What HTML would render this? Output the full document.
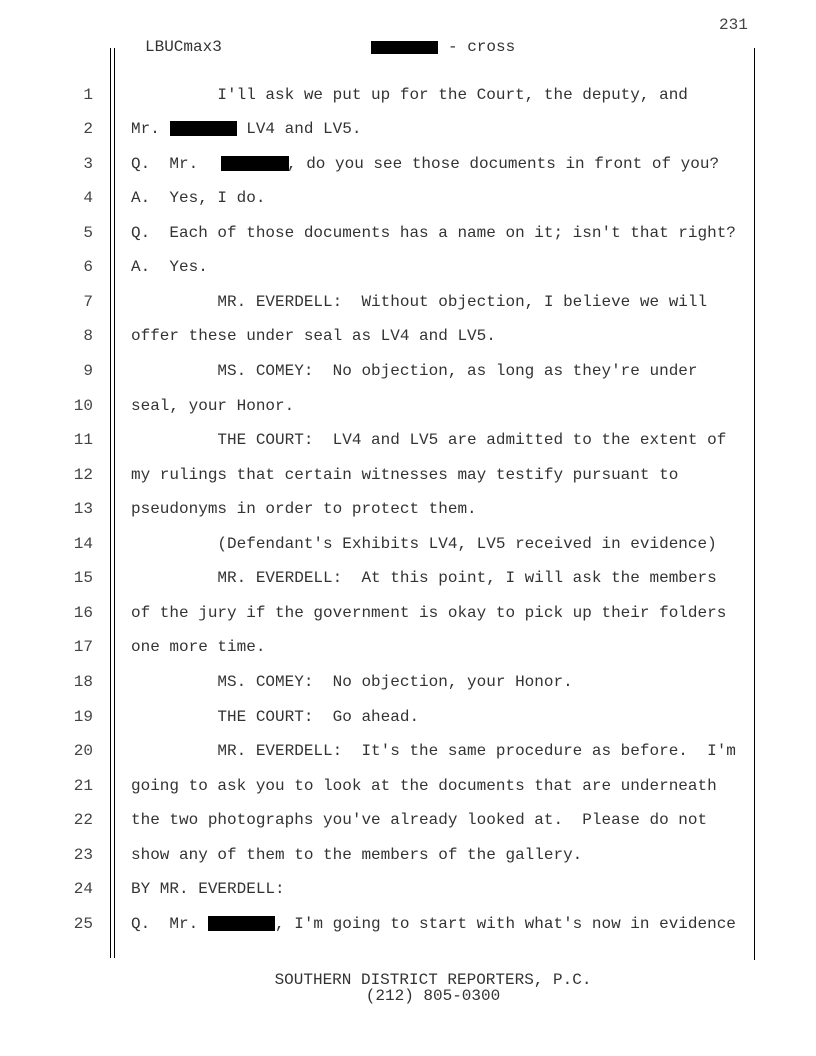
<!DOCTYPE html>
<html><head><meta charset="utf-8"><style>
body{margin:0;background:#fff;}
#p{position:relative;width:816px;height:1056px;overflow:hidden;background:#fff;font-family:"Liberation Mono",monospace;font-size:16px;color:#333;}
.t{position:absolute;white-space:pre;line-height:18px;}
.n{position:absolute;width:40px;left:53px;text-align:right;line-height:18px;color:#444;}
.r{position:absolute;background:#000;}
.v{position:absolute;width:1px;background:#000;}
</style></head><body><div id="p">
<div class="t" style="left:719px;top:16px;color:#444">231</div>
<div class="t" style="left:145px;top:38px">LBUCmax3</div>
<div class="r" style="left:371px;top:41px;width:67px;height:13px"></div>
<div class="t" style="left:448px;top:38px">- cross</div>
<div class="v" style="left:110px;top:48px;height:910px"></div>
<div class="v" style="left:114px;top:48px;height:910px"></div>
<div class="v" style="left:754px;top:48px;height:912px"></div>

<div class="n" style="top:86px">1</div><div class="t" style="left:131px;top:86px">         I'll ask we put up for the Court, the deputy, and</div>
<div class="n" style="top:120px">2</div><div class="t" style="left:131px;top:120px">Mr.         LV4 and LV5.</div>
<div class="r" style="left:170px;top:121px;width:67px;height:15px"></div>
<div class="n" style="top:155px">3</div><div class="t" style="left:131px;top:155px">Q.  Mr.</div>
<div class="t" style="left:287px;top:155px">, do you see those documents in front of you?</div>
<div class="r" style="left:221px;top:156px;width:68px;height:15px"></div>
<div class="n" style="top:189px">4</div><div class="t" style="left:131px;top:189px">A.  Yes, I do.</div>
<div class="n" style="top:224px">5</div><div class="t" style="left:131px;top:224px">Q.  Each of those documents has a name on it; isn't that right?</div>
<div class="n" style="top:258px">6</div><div class="t" style="left:131px;top:258px">A.  Yes.</div>
<div class="n" style="top:293px">7</div><div class="t" style="left:131px;top:293px">         MR. EVERDELL:  Without objection, I believe we will</div>
<div class="n" style="top:327px">8</div><div class="t" style="left:131px;top:327px">offer these under seal as LV4 and LV5.</div>
<div class="n" style="top:362px">9</div><div class="t" style="left:131px;top:362px">         MS. COMEY:  No objection, as long as they're under</div>
<div class="n" style="top:397px">10</div><div class="t" style="left:131px;top:397px">seal, your Honor.</div>
<div class="n" style="top:431px">11</div><div class="t" style="left:131px;top:431px">         THE COURT:  LV4 and LV5 are admitted to the extent of</div>
<div class="n" style="top:466px">12</div><div class="t" style="left:131px;top:466px">my rulings that certain witnesses may testify pursuant to</div>
<div class="n" style="top:500px">13</div><div class="t" style="left:131px;top:500px">pseudonyms in order to protect them.</div>
<div class="n" style="top:535px">14</div><div class="t" style="left:131px;top:535px">         (Defendant's Exhibits LV4, LV5 received in evidence)</div>
<div class="n" style="top:569px">15</div><div class="t" style="left:131px;top:569px">         MR. EVERDELL:  At this point, I will ask the members</div>
<div class="n" style="top:604px">16</div><div class="t" style="left:131px;top:604px">of the jury if the government is okay to pick up their folders</div>
<div class="n" style="top:638px">17</div><div class="t" style="left:131px;top:638px">one more time.</div>
<div class="n" style="top:673px">18</div><div class="t" style="left:131px;top:673px">         MS. COMEY:  No objection, your Honor.</div>
<div class="n" style="top:708px">19</div><div class="t" style="left:131px;top:708px">         THE COURT:  Go ahead.</div>
<div class="n" style="top:742px">20</div><div class="t" style="left:131px;top:742px">         MR. EVERDELL:  It's the same procedure as before.  I'm</div>
<div class="n" style="top:777px">21</div><div class="t" style="left:131px;top:777px">going to ask you to look at the documents that are underneath</div>
<div class="n" style="top:811px">22</div><div class="t" style="left:131px;top:811px">the two photographs you've already looked at.  Please do not</div>
<div class="n" style="top:846px">23</div><div class="t" style="left:131px;top:846px">show any of them to the members of the gallery.</div>
<div class="n" style="top:880px">24</div><div class="t" style="left:131px;top:880px">BY MR. EVERDELL:</div>
<div class="n" style="top:915px">25</div><div class="t" style="left:131px;top:915px">Q.  Mr.        , I'm going to start with what's now in evidence</div>
<div class="r" style="left:208px;top:916px;width:67px;height:15px"></div>

<div class="t" style="left:0;width:866px;text-align:center;top:971px">SOUTHERN DISTRICT REPORTERS, P.C.</div>
<div class="t" style="left:0;width:866px;text-align:center;top:987px">(212) 805-0300</div>
</div></body></html>
